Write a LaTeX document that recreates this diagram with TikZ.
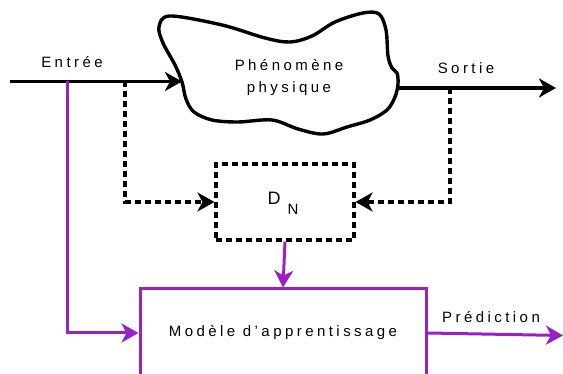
\documentclass[tikz,border=0pt]{standalone}
\usepackage{fontspec}
\setmainfont{Liberation Sans}
\newfontfamily\spaced[LetterSpace=23]{Liberation Sans}
\usetikzlibrary{arrows.meta}
\definecolor{violet}{HTML}{991FC7}
\tikzset{
  lbl/.style={font=\spaced\fontsize{15}{22}\selectfont, inner sep=0pt},
  tip/.style={-{Stealth[length=17pt,width=19pt,inset=5pt]}},
  solidline/.style={line width=3.4pt, draw=black},
  dashline/.style={line width=3.1pt, draw=black, dash pattern=on 6pt off 4pt},
  purpleline/.style={line width=3pt, draw=violet},
  dnbox/.style={dashline, minimum width=138pt, minimum height=76pt, inner sep=0pt},
  modelbox/.style={purpleline, minimum width=286pt, minimum height=88pt, inner sep=0pt,
    font=\spaced\fontsize{15}{18}\selectfont},
}
\begin{document}
\begin{tikzpicture}[x=1pt, y=-1pt]
  \clip (0,0) rectangle (563,374);

  % physical phenomenon (cloud outline)
  \draw[line width=3.4pt, line join=round]
    plot[smooth cycle, tension=0.55] coordinates {
      (170,16) (222,25) (265,38) (290,42) (312,36) (335,22) (363,13) (379,14)
      (386,30) (388,56) (392,68) (397,73) (398,84) (395,97) (387,110)
      (370,120) (347,127) (323,134) (298,129) (272,120) (238,122) (212,120)
      (194,112) (186,99) (182,82) (175,65) (163,43) (159,27)};
  \node[lbl, align=center] (phen) at (289,78) {Phénomène\\physique};

  % connection points
  \coordinate (inStart) at (10,81.5);
  \coordinate (cloudIn) at (182,81.5);
  \coordinate (cloudOut) at (397,88);
  \coordinate (outEnd) at (556,88);
  \coordinate (brPurple) at (67,81.5);
  \coordinate (brDashIn) at (125,81.5);
  \coordinate (brDashOut) at (450,88);
  \coordinate (predEnd) at (563,335.5);

  % boxes
  \node[dnbox] (dn) at (285,202) {};
  \node[inner sep=0pt] (dnlabel) at (283,203)
    {\fontsize{18}{18}\selectfont D\hspace{7pt}\raisebox{-10pt}{\fontsize{15}{15}\selectfont N}};
  \node[modelbox] (model) at (283,333) {Modèle d’apprentissage};

  % labels
  \node[lbl] (entree) at (72,62) {Entrée};
  \node[lbl] (sortie) at (466,68) {Sortie};
  \node[lbl] (pred) at (491,317) {Prédiction};

  % main flow
  \draw[solidline, tip] (inStart) -- (cloudIn);
  \draw[solidline, tip] (cloudOut) -- (outEnd);

  % measured data to D_N
  \draw[dashline, tip] (brDashIn) |- (dn.west);
  \draw[dashline, tip] (brDashOut) |- (dn.east);

  % learning model
  \draw[purpleline, tip] (brPurple) |- (model.west);
  \draw[purpleline, tip] (dn.south) -- (model.north);
  \draw[purpleline, tip] (model.east) -- (predEnd);
\end{tikzpicture}
\end{document}
